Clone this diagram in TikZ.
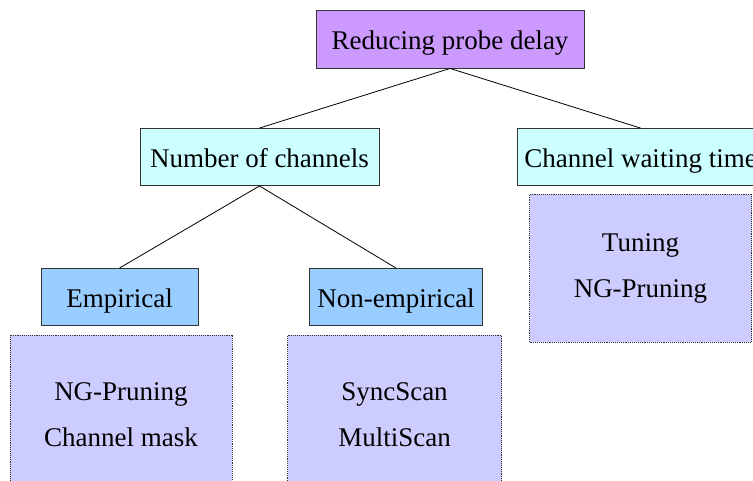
\documentclass[tikz,border=0pt]{standalone}
\usepackage{fontspec}
\setmainfont{Liberation Serif}
\definecolor{rootpurple}{HTML}{CC99FF}
\definecolor{branchcyan}{HTML}{CCFFFF}
\definecolor{methodblue}{HTML}{99CCFF}
\definecolor{schemelilac}{HTML}{CCCCFF}
\definecolor{boxline}{HTML}{333333}
\tikzstyle{topic} = [rectangle, draw=boxline, line width=0.9pt, fill=rootpurple, inner sep=0pt, text height=22pt, text depth=1pt, minimum height=58pt]
\tikzstyle{branch} = [topic, fill=branchcyan, minimum height=57pt]
\tikzstyle{method} = [topic, fill=methodblue, minimum height=57pt]
\tikzstyle{schemes} = [rectangle, draw=boxline, densely dotted, line width=0.9pt, fill=schemelilac, align=center, inner sep=0pt]
\tikzstyle{line} = [draw, line width=0.8pt]

\begin{document}
\begin{tikzpicture}[x=1pt, y=-1pt, font=\fontsize{27}{46}\selectfont]
    \clip (0,0) rectangle (753,481);
    % Place nodes
    \node [topic, minimum width=268pt] (probe) at (450,39) {Reducing probe delay};
    \node [branch, minimum width=239pt] (channels) at (259.5,157) {Number of channels};
    \node [branch, minimum width=247pt] (waiting) at (640.5,157) {Channel waiting time};
    \node [method, minimum width=157pt] (empirical) at (119.5,297) {Empirical};
    \node [method, minimum width=173pt] (nonempirical) at (396,297) {Non-empirical};
    \node [schemes, minimum width=222pt, minimum height=160pt] (empschemes) at (121,415) {NG-Pruning\\Channel mask};
    \node [schemes, minimum width=214pt, minimum height=160pt] (nonempschemes) at (394.5,415) {SyncScan\\MultiScan};
    \node [schemes, minimum width=222pt, minimum height=148pt] (waitschemes) at (640.5,268) {Tuning\\NG-Pruning};
    % Draw edges
    \path [line] (probe.south) -- (channels.north);
    \path [line] (probe.south) -- (waiting.north);
    \path [line] (channels.south) -- (empirical.north);
    \path [line] (channels.south) -- (nonempirical.north);
\end{tikzpicture}
\end{document}
